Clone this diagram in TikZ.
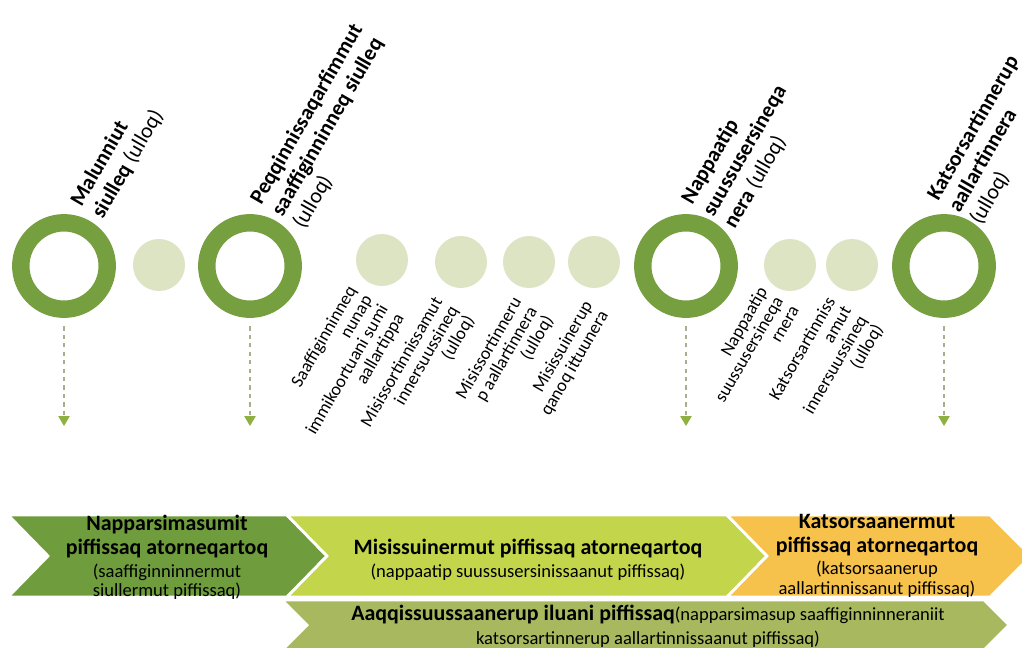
\documentclass[tikz,border=0pt]{standalone}
\usepackage{fontspec}
\setmainfont{Carlito}
\usepackage{tikz}
\usetikzlibrary{positioning,arrows.meta}
\definecolor{ringgreen}{HTML}{76A040}
\definecolor{dotgreen}{HTML}{DDE4C4}
\definecolor{arrowgray}{HTML}{A9AE8E}
\definecolor{arrowgreen}{HTML}{8DB040}
\definecolor{chevdark}{HTML}{6F9D3D}
\definecolor{chevlime}{HTML}{C3D54A}
\definecolor{chevorange}{HTML}{F6C24B}
\definecolor{chevolive}{HTML}{A8B85E}
\tikzset{
  ring/.style={circle, draw=ringgreen, line width=12.4pt, minimum size=2.16cm, inner sep=0pt},
  smalldot/.style={circle, fill=dotgreen, minimum size=1.3cm, inner sep=0pt},
  drop/.style={dashed, draw=arrowgray, line width=0.9pt, shorten <=6pt,
               -{Triangle[width=8pt,length=7pt,color=arrowgreen]}},
  toplabel/.style={rotate=60, anchor=south west, align=left, inner sep=0pt, font=\fontsize{15.4}{17.5}\selectfont},
  lowlabel/.style={rotate=60, anchor=north east, align=right, inner sep=0pt, font=\fontsize{12.8}{13}\selectfont},
  chev/.style={draw=white, line width=2pt},
  headtext/.style={align=center, inner sep=0pt, font=\fontsize{15.6}{17}\selectfont\bfseries},
  subtext/.style={align=center, inner sep=0pt, font=\fontsize{13.2}{14}\selectfont},
}

\begin{document}
\begin{tikzpicture}[x=0.025cm, y=-0.025cm]
  \useasboundingbox (0,0) rectangle (1022,647);

  % timeline
  \node[ring] (r1) at (64,266) {};
  \node[smalldot] (s1) at (159,265) {};
  \node[ring] (r2) at (250,266) {};
  \node[smalldot] (s2) at (382,260) {};
  \node[smalldot] (s3) at (461,262) {};
  \node[smalldot] (s4) at (529,262) {};
  \node[smalldot] (s5) at (594,262) {};
  \node[ring] (r3) at (686,266) {};
  \node[smalldot] (s6) at (790,265) {};
  \node[smalldot] (s7) at (852,265) {};
  \node[ring] (r4) at (944,266) {};

  \node[toplabel] (t1) at (106,222) {\textbf{Malunniut}\\\textbf{siulleq} (ulloq)};
  \node[toplabel] (t2) at (307,232) {\textbf{Peqqinnissaqarfimmut}\\\textbf{saaffiginninneq siulleq}\\(ulloq)};
  \node[toplabel] (t3) at (738,232) {\textbf{Nappaatip}\\\textbf{suussusersineqa}\\\textbf{nera} (ulloq)};
  \node[toplabel] (t4) at (984,228) {\textbf{Katsorsartinnerup}\\\textbf{aallartinnera}\\(ulloq)};

  \node[lowlabel] (l2) at (346,284) {Saaffiginninneq\\nunap\\immikoortuani sumi\\aallartippa};
  \node[lowlabel] (l3) at (432,295) {Misissortinnissamut\\innersuussineq\\(ulloq)};
  \node[lowlabel] (l4) at (511,295) {Misissortinneru\\p aallartinnera\\(ulloq)};
  \node[lowlabel] (l5) at (582,299) {Misissuinerup\\qanoq ittuunera};
  \node[lowlabel] (l6) at (757,285) {Nappaatip\\suussusersineqa\\rnera};
  \node[lowlabel] (l7) at (825,295) {Katsorsartinniss\\amut\\innersuussineq\\(ulloq)};

  \coordinate (a1) at (64,426);
  \coordinate (a2) at (250,426);
  \coordinate (a3) at (686,426);
  \coordinate (a4) at (944,426);
  \draw[drop] (r1.south) -- (a1);
  \draw[drop] (r2.south) -- (a2);
  \draw[drop] (r3.south) -- (a3);
  \draw[drop] (r4.south) -- (a4);

  % periods
  \filldraw[chev, fill=chevdark] (8,515) -- (287,515) -- (327,556) -- (287,597) -- (8,597) -- (48,556) -- cycle;
  \filldraw[chev, fill=chevlime] (287,515) -- (727,515) -- (767,556) -- (727,597) -- (287,597) -- (327,556) -- cycle;
  \filldraw[chev, fill=chevorange] (727,515) -- (990,515) -- (1031,556) -- (990,597) -- (727,597) -- (767,556) -- cycle;
  \filldraw[chev, fill=chevolive] (282,600) -- (984,600) -- (1009,625) -- (984,650) -- (282,650) -- (307,625) -- cycle;

  \node[headtext, anchor=north] (h1) at (167,515) {Napparsimasumit\\piffissaq atorneqartoq};
  \node[subtext] (p1) [below=3.5pt of h1] {(saaffiginninnermut\\siullermut piffissaq)};
  \node[headtext, anchor=base] (h2) at (528,554) {Misissuinermut piffissaq atorneqartoq};
  \node[subtext] (p2) [below=4pt of h2] {(nappaatip suussusersinissaanut piffissaq)};
  \node[headtext, anchor=north] (h3) at (877,514) {Katsorsaanermut\\piffissaq atorneqartoq};
  \node[subtext] (p3) [below=3.5pt of h3] {(katsorsaanerup\\aallartinnissanut piffissaq)};
  \node[align=center, inner sep=0pt, font=\fontsize{13.2}{16.8}\selectfont] (h4) at (648,626)
    {{\fontsize{15.6}{16.8}\selectfont\bfseries Aaqqissuussaanerup iluani piffissaq}(napparsimasup saaffiginninneraniit\\katsorsartinnerup aallartinnissaanut piffissaq)};
\end{tikzpicture}
\end{document}
